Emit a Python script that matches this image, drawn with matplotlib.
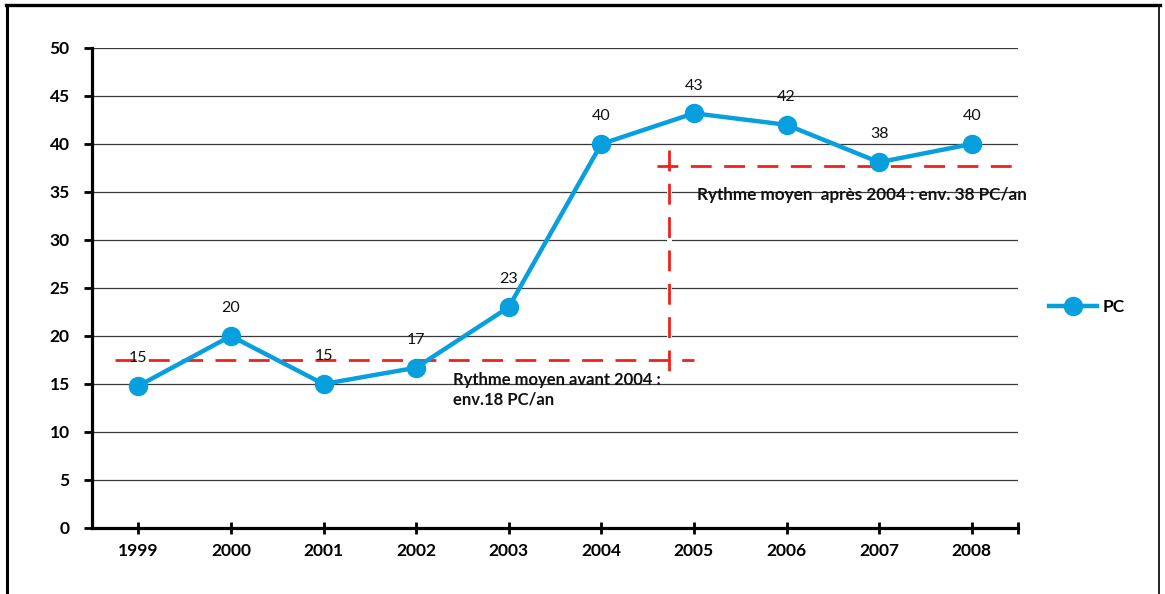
import matplotlib
matplotlib.use("Agg")
import matplotlib.pyplot as plt
from matplotlib.lines import Line2D

plt.rcParams['font.family'] = ['Lato', 'DejaVu Sans']

# Data
years = ['1999', '2000', '2001', '2002', '2003', '2004', '2005', '2006', '2007', '2008']
pc_values = [14.8, 20.0, 15.0, 16.7, 23.0, 40.0, 43.2, 42.0, 38.1, 40.0]
series_name = 'PC'
y_ticks = [0, 5, 10, 15, 20, 25, 30, 35, 40, 45, 50]

# Average-rate guides
avg_before = 17.5
avg_after = 37.7
text_before = "Rythme moyen avant 2004 :\nenv.18 PC/an"
text_after = "Rythme moyen  après 2004 : env. 38 PC/an"

BLUE = '#079fdd'
RED = '#f0201a'

fig = plt.figure(figsize=(11.65, 5.94), dpi=100)
ax = fig.add_axes([92 / 1165, 1 - 528 / 594, (1018 - 92) / 1165, (528 - 48) / 594])

x = list(range(len(years)))

# horizontal grid lines
for yv in y_ticks[1:]:
    ax.axhline(yv, color='#3a3a3a', lw=0.9, zorder=1)

# series
ax.plot(x, pc_values, color=BLUE, lw=3.2, marker='o', markersize=13,
        label=series_name, zorder=5, solid_joinstyle='round')
for xi, v in zip(x, pc_values):
    ax.annotate(f"{v:.0f}", (xi, v), xytext=(0, 20), textcoords='offset points',
                ha='center', va='center', fontsize=11.5, color='#111111', zorder=6)

# average guides (white underlay breaks the grid where the dashes gap)
vx = 5.73
ax.plot([vx, vx], [15.4, 39.4], color='white', lw=3.5, zorder=2)
dash = dict(color=RED, lw=2.0, linestyle=(0, (7.5, 4.5)), zorder=3)
ax.plot([-0.25, 6.0], [avg_before, avg_before], **dash)
ax.plot([5.6, 9.5], [avg_after, avg_after], **dash)
ax.plot([vx, vx], [39.4, 15.4], **dash)

ax.text(3.40, 16.25, text_before, fontsize=12, fontweight='bold',
        ha='left', va='top', linespacing=1.3, color='#111111', zorder=7)
ax.text(6.03, 34.7, text_after, fontsize=12.3, fontweight='bold',
        ha='left', va='center', color='#111111', zorder=7)

# axes styling
ax.set_xlim(-0.5, 9.5)
ax.set_ylim(0, 50)
ax.set_yticks(y_ticks)
ax.set_yticklabels([str(t) for t in y_ticks], fontsize=12.5, fontweight='bold')
ax.set_xticks(x)
ax.set_xticklabels(years, fontsize=12.5, fontweight='bold')
ax.set_xticks([9.5], minor=True)
ax.tick_params(axis='y', direction='out', length=6, width=2, pad=10, color='black')
ax.tick_params(axis='x', which='both', direction='inout', length=8, width=2, pad=7, color='black')
for side in ('top', 'right'):
    ax.spines[side].set_visible(False)
for side in ('left', 'bottom'):
    ax.spines[side].set_linewidth(2.3)
    ax.spines[side].set_color('black')
    ax.spines[side].set_zorder(8)
ax.set_facecolor('none')

# legend on the right
leg = fig.legend(loc='center left', bbox_to_anchor=(1033 / 1165, 1 - 307 / 594),
                 frameon=False, handlelength=2.8, handletextpad=0.3,
                 prop={'weight': 'bold', 'size': 12.5})

# outer frame
fig.add_artist(Line2D([7 / 1165, 7 / 1165], [0, 1 - 5 / 594], transform=fig.transFigure,
                      color='black', lw=2.2))
fig.add_artist(Line2D([6 / 1165, 1160 / 1165], [1 - 5 / 594, 1 - 5 / 594],
                      transform=fig.transFigure, color='black', lw=2.4))
fig.add_artist(Line2D([1159 / 1165, 1159 / 1165], [0, 1 - 5 / 594], transform=fig.transFigure,
                      color='black', lw=1.2))

fig.savefig('out.png', dpi=100, facecolor='white')
